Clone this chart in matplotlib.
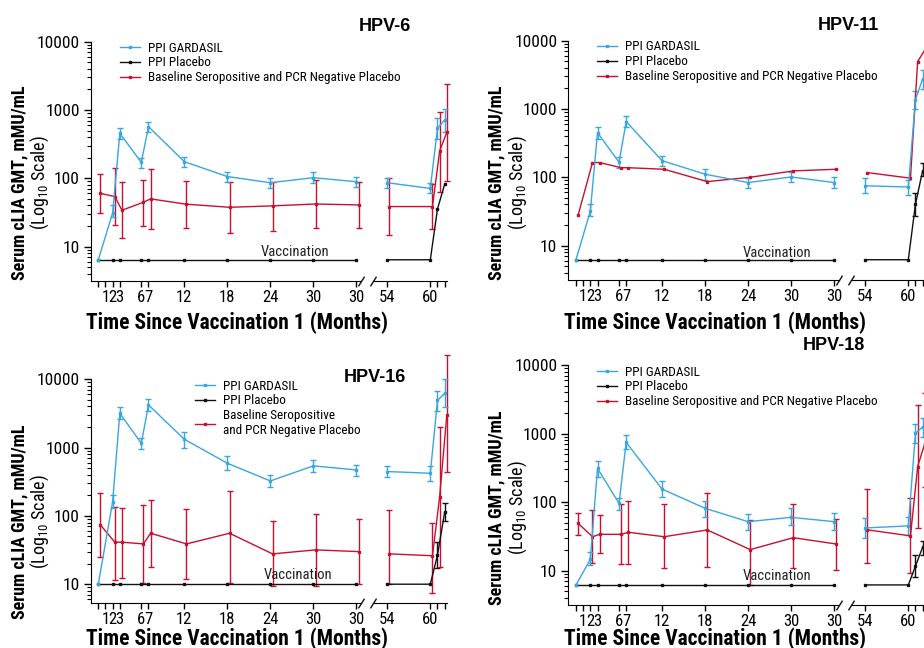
import numpy as np
import matplotlib
matplotlib.use('Agg')
import matplotlib.pyplot as plt
from matplotlib import font_manager
from matplotlib.lines import Line2D
from matplotlib.ticker import LogLocator, NullFormatter

# pick the narrowest sans family that is installed
_fonts = font_manager.fontManager.ttflist
_names = {f.name for f in _fonts}
FONT_STRETCH = 'normal'
if 'Roboto Condensed' in _names:
    FONT = 'Roboto Condensed'
elif 'Liberation Sans Narrow' in _names:
    FONT = 'Liberation Sans Narrow'
elif any(f.name == 'DejaVu Sans' and f.stretch == 'condensed' for f in _fonts):
    FONT = 'DejaVu Sans'
    FONT_STRETCH = 'condensed'
else:
    FONT = 'Roboto'
plt.rcParams['font.family'] = [FONT, 'DejaVu Sans']
plt.rcParams['font.stretch'] = FONT_STRETCH
plt.rcParams['mathtext.fontset'] = 'custom'
plt.rcParams['mathtext.rm'] = FONT

W, H = 924, 648
nan = np.nan

# sampling time points (months since vaccination 1)
months = [0, 2, 3, 6, 7, 12, 18, 24, 30, 36, 54, 60, 61, 62]
early_ticks = [0, 1, 2, 3, 6, 7, 12, 18, 24, 30, 36]
early_tick_labels = ['', '1', '2', '3', '6', '7', '12', '18', '24', '30', '30']
late_ticks = [54, 60, 61, 62]
late_tick_labels = ['54', '60', '', '']

series_names = ['PPI GARDASIL', 'PPI Placebo', 'Baseline Seropositive and PCR Negative Placebo']

# HPV-6
hpv6_gardasil = [6.4, 31, 456, 171, 570, 175, 106, 86, 102, 89, 86, 71, 540, 714]
hpv6_gardasil_lo = [nan, 27.5, 372, 143, 482, 148, 89, 71, 86, 75, 71, 60, 372, 482]
hpv6_gardasil_hi = [nan, 40.7, 551, 201, 675, 207, 125, 100, 122, 106, 100, 85, 773, 1023]
hpv6_placebo = [6.4, 6.4, 6.4, 6.4, 6.4, 6.4, 6.4, 6.4, 6.4, 6.4, 6.4, 6.4, 35.6, 81.7]
hpv6_seropos = [60, 54, 34, 44.6, 49.9, 41.7, 37.6, 39.4, 42, 40.7, 38.5, 38.5, 251, 471]
hpv6_seropos_lo = [31.5, 20.5, 13.2, 20, 18.3, 18.5, 15.7, 16.9, 18.5, 18.5, 14.8, 18, 64, 92.5]
hpv6_seropos_hi = [116, 143, 89, 94.6, 138, 91, 88, 89, 94.6, 89, 102, 83, 946, 2377]

# HPV-11
hpv11_gardasil = [6.2, 32, 451, 166, 653, 175, 111, 83.6, 101, 83.6, 75, 72, 1370, 2780]
hpv11_gardasil_lo = [nan, 27.2, 360, 138, 551, 147, 91, 69, 84.5, 69, 58, 55, 1000, 1941]
hpv11_gardasil_hi = [nan, 40.8, 551, 201, 798, 207, 131, 99, 121, 100, 98, 91, 1854, 3700]
hpv11_placebo = [6.2, 6.2, 6.2, 6.2, 6.2, 6.2, 6.2, 6.2, 6.2, 6.2, 6.2, 6.2, 40.7, 125]
hpv11_placebo_lo = [nan, nan, nan, nan, nan, nan, nan, nan, nan, nan, nan, nan, 27.4, 105]
hpv11_placebo_hi = [nan, nan, nan, nan, nan, nan, nan, nan, nan, nan, nan, nan, 58.3, 164]
hpv11_seropos = [28.1, 164, 164, 138, 138, 131, 86.4, 100, 124, 131, 117, 97, 4950, 7300]

# HPV-16
hpv16_gardasil = [10, 162, 3180, 1156, 4210, 1324, 590, 325, 540, 471, 446, 421, 4900, 6240]
hpv16_gardasil_lo = [nan, 132, 2600, 955, 3440, 1000, 471, 265, 436, 389, 372, 329, 3400, 3975]
hpv16_gardasil_hi = [nan, 199, 3890, 1370, 5150, 1714, 755, 398, 660, 557, 533, 540, 6800, 10000]
hpv16_placebo = [10, 10, 10, 10, 10, 10, 10, 10, 10, 10, 10, 10, 26.8, 113]
hpv16_placebo_lo = [nan, nan, nan, nan, nan, nan, nan, nan, nan, nan, nan, nan, 17.1, 84]
hpv16_placebo_hi = [nan, nan, nan, nan, nan, nan, nan, nan, nan, nan, nan, nan, 41.9, 153]
hpv16_seropos = [73.8, 41.2, 41.2, 38.9, 55.7, 38.9, 55.7, 27.8, 31.8, 30, 27.8, 26.1, 191, 3000]
hpv16_seropos_lo = [25.4, 11.6, 12.2, 10.3, 17.7, 12, 10.5, 9.5, 9.5, 10, 10, 7.4, 18, 435]
hpv16_seropos_hi = [215, 137, 132, 142, 169, 125, 235, 85.5, 107, 90, 122, 79.4, 1982, 22700]

# HPV-18
hpv18_gardasil = [6.2, 14.7, 311, 96, 745, 155, 81.3, 51.9, 60, 51.9, 42, 45, 1010, 1250]
hpv18_gardasil_lo = [nan, 12.1, 230, 76.8, 589, 117, 60, 39.3, 46.5, 39.3, 30.2, 33.3, 736, 902]
hpv18_gardasil_hi = [nan, 19, 403, 116, 953, 206, 105, 66.4, 81.3, 68.7, 58.2, 61.5, 1369, 1671]
hpv18_placebo = [6.2, 6.2, 6.2, 6.2, 6.2, 6.2, 6.2, 6.2, 6.2, 6.2, 6.2, 6.2, 11.7, 22]
hpv18_placebo_lo = [nan, nan, nan, nan, nan, nan, nan, nan, nan, nan, nan, nan, 8, 17]
hpv18_placebo_hi = [nan, nan, nan, nan, nan, nan, nan, nan, nan, nan, nan, nan, 17, 27]
hpv18_seropos = [49, 31.3, 33.9, 33.9, 36.3, 31.3, 39.3, 20.3, 30.3, 24.5, 39.4, 32.2, 329, 721]
hpv18_seropos_lo = [33.5, 12.8, 17.9, 12.4, 12.4, 10.8, 11.5, 6.2, 10.8, 10.2, 13.1, 9.2, 41.6, 168]
hpv18_seropos_hi = [70, 76.8, 64.9, 94, 105, 93, 134, 54.8, 94, 56.8, 156, 114, 2612, 3945]

BLUE = '#3aa6e0'
BLACK = '#111111'
RED = '#c8102e'
PX_PER_MONTH = 7.17

fig = plt.figure(figsize=(W / 100, H / 100), dpi=100)


def fig_text(x, y, s, **kw):
    return fig.text(x / W, 1 - y / H, s, **kw)


def draw_series(axes, y, lo, hi, color, dx):
    m = np.array(months, dtype=float)
    y = np.array(y, dtype=float)
    for ax, sel in axes:
        xs = m[sel] + dx
        ys = y[sel]
        if lo is not None:
            err = np.array([ys - np.array(lo)[sel], np.array(hi)[sel] - ys])
        else:
            err = None
        cont = ax.errorbar(xs, ys, yerr=err, color=color, lw=1.0, marker='s', ms=2.1,
                           elinewidth=1.0, capsize=2.2, capthick=1.0)
        for art in [cont.lines[0], *cont.lines[1], *cont.lines[2]]:
            if art is not None:
                art.set_clip_on(False)


def panel(x0, x54, top, bottom, ymin, title, title_xy, legend_xy, ylab_y, ylab_x,
          xlab_xy, vacc_xy, gardasil, placebo, seropos, wrap_legend=False):
    h = bottom - top
    ax1 = fig.add_axes([(x0 - 1.05 * PX_PER_MONTH) / W, 1 - bottom / H,
                        37.75 * PX_PER_MONTH / W, h / H])
    ax2 = fig.add_axes([(x54 - 2 * PX_PER_MONTH) / W, 1 - bottom / H,
                        10.35 * PX_PER_MONTH / W, h / H])
    for ax in (ax1, ax2):
        ax.set_yscale('log')
        ax.set_ylim(ymin, 10000)
        ax.patch.set_visible(False)
        ax.spines[['top', 'right']].set_visible(False)
        ax.tick_params(axis='x', which='major', direction='out', length=4, width=1,
                       pad=2.5, labelsize=12)
    ax1.set_xlim(-1.05, 36.7)
    ax2.set_xlim(52.0, 62.35)
    ax2.spines['left'].set_visible(False)
    ax2.tick_params(axis='y', which='both', left=False, labelleft=False)

    ax1.set_xticks(early_ticks, labels=early_tick_labels)
    ax2.set_xticks(late_ticks, labels=late_tick_labels)
    ax1.set_yticks([10, 100, 1000, 10000], labels=['10', '100', '1000', '10000'])
    ax1.yaxis.set_minor_locator(LogLocator(base=10, subs=np.arange(2, 10)))
    ax1.yaxis.set_minor_formatter(NullFormatter())
    ax1.tick_params(axis='y', which='major', direction='out', length=5, width=1,
                    pad=3, labelsize=12.5)
    ax1.tick_params(axis='y', which='minor', direction='out', length=3, width=0.8)

    # axis break marks
    brk = dict(marker=[(-1, -1.6), (1, 1.6)], markersize=7, color=BLACK, mew=1,
               linestyle='none', clip_on=False)
    ax1.plot([1], [0], transform=ax1.transAxes, **brk)
    ax2.plot([0], [0], transform=ax2.transAxes, **brk)

    m = np.array(months)
    axes = [(ax1, m <= 36), (ax2, m >= 54)]
    draw_series(axes, *placebo, BLACK, 0.0)
    draw_series(axes, *seropos, RED, 0.3)
    draw_series(axes, *gardasil, BLUE, 0.0)

    ax1.text(vacc_xy[0], vacc_xy[1], 'Vaccination', ha='center', va='center',
             fontsize=10.5, color='#222222')

    handles = [Line2D([], [], color=c, lw=1.0, marker='s', ms=2.1) for c in (BLUE, BLACK, RED)]
    labels = list(series_names)
    if wrap_legend:
        labels[2] = 'Baseline Seropositive\nand PCR Negative Placebo'
    ax1.legend(handles, labels, loc='upper left',
               bbox_to_anchor=(legend_xy[0] / W, 1 - legend_xy[1] / H),
               bbox_transform=fig.transFigure, frameon=False, borderpad=0,
               borderaxespad=0, handlelength=1.55, handletextpad=0.55,
               labelspacing=0.15, fontsize=9.5)

    fig_text(title_xy[0], title_xy[1], title, ha='center', va='center', fontsize=13,
             fontweight='bold', family=['Liberation Sans', 'DejaVu Sans'], stretch='normal')
    fig_text(ylab_x, ylab_y, 'Serum cLIA GMT, mMU/mL', rotation=90, ha='center',
             va='center', fontsize=13, fontweight='bold')
    fig_text(ylab_x + 21, ylab_y, r'(Log$_{\mathregular{10}}$ Scale)', rotation=90,
             ha='center', va='center', fontsize=13)
    fig_text(xlab_xy[0], xlab_xy[1], 'Time Since Vaccination 1 (Months)', ha='center',
             va='center', fontsize=15.5, fontweight='bold')


panel(98.3, 387.3, 41.7, 281, 3.13, 'HPV-6', (385, 26.5), (120, 41.5), 183, 19,
      (236.7, 323), (27.5, 8.4),
      (hpv6_gardasil, hpv6_gardasil_lo, hpv6_gardasil_hi),
      (hpv6_placebo, None, None),
      (hpv6_seropos, hpv6_seropos_lo, hpv6_seropos_hi))

panel(576, 865.3, 40.7, 280, 3.13, 'HPV-11', (848, 26), (597, 40.5), 183, 496.5,
      (714.5, 323), (28.1, 7.9),
      (hpv11_gardasil, hpv11_gardasil_lo, hpv11_gardasil_hi),
      (hpv11_placebo, hpv11_placebo_lo, hpv11_placebo_hi),
      (hpv11_seropos, None, None))

panel(98.3, 387.3, 379.3, 602.7, 5.36, 'HPV-16', (375, 378), (195, 379.5), 522, 19,
      (236.7, 638.5), (27.8, 13.6),
      (hpv16_gardasil, hpv16_gardasil_lo, hpv16_gardasil_hi),
      (hpv16_placebo, hpv16_placebo_lo, hpv16_placebo_hi),
      (hpv16_seropos, hpv16_seropos_lo, hpv16_seropos_hi), wrap_legend=True)

panel(576, 865.3, 365, 605, 3.16, 'HPV-18', (834, 345), (597, 365.5), 507.5, 496.5,
      (714.5, 638.5), (28.1, 8.4),
      (hpv18_gardasil, hpv18_gardasil_lo, hpv18_gardasil_hi),
      (hpv18_placebo, hpv18_placebo_lo, hpv18_placebo_hi),
      (hpv18_seropos, hpv18_seropos_lo, hpv18_seropos_hi))

fig.savefig('out.png', dpi=100)
